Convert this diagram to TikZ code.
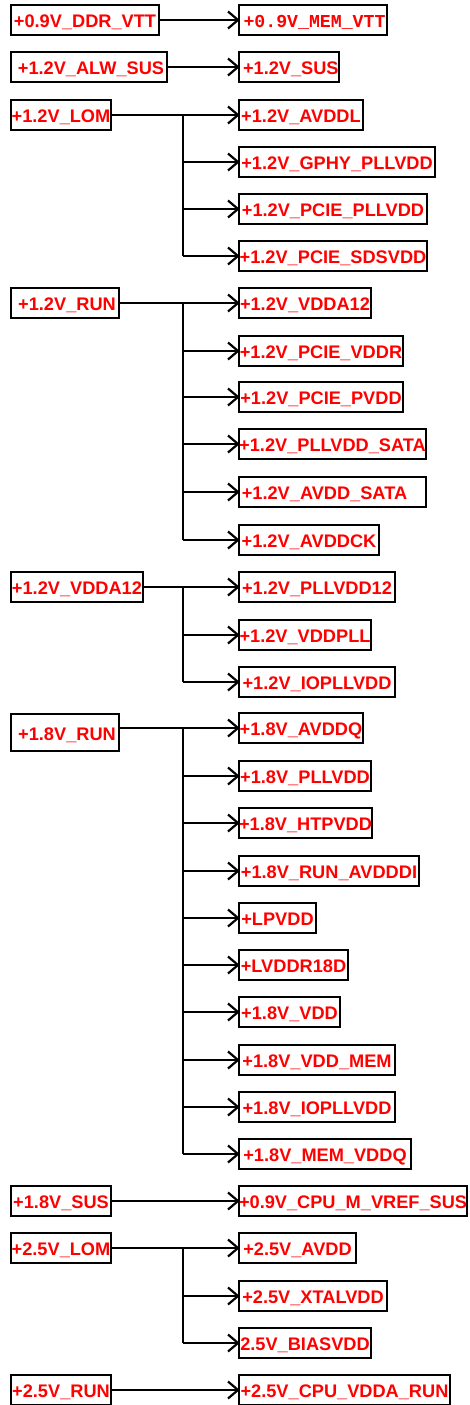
\documentclass[tikz,border=0pt]{standalone}
\usepackage{fontspec}
\setmainfont{Liberation Sans}
\setmonofont{Liberation Mono}
\tikzset{
  box/.style={draw=black, line width=2pt, inner sep=0pt, minimum height=30pt,
    text height=15pt, text depth=0pt, text=red, anchor=west,
    font=\fontsize{18.2}{20}\selectfont\bfseries},
  monobox/.style={box, font=\fontsize{18.2}{20}\selectfont\ttfamily\bfseries},
  conn/.style={line width=1.5pt, black},
  head/.style={line width=2.2pt, black, line join=miter},
}
\newcommand\feed[2]{%
  \draw[conn] (#1) -- (#2);
  \draw[head] ([shift={(-10pt,-8.5pt)}]#2) -- (#2) -- ([shift={(-10pt,8.5pt)}]#2);}
\begin{document}
\begin{tikzpicture}[x=1pt,y=-1pt]
\fill[white] (0,0) rectangle (470,1405);
\useasboundingbox (0,0) rectangle (470,1405);
\coordinate (tx) at (183,0);

% ---- +0.9V_DDR_VTT
\node[box, minimum width=148pt] (p1) at (10,20) {+0.9V\_DDR\_VTT};
\node[monobox, minimum width=148pt] (c11) at (238,20) {\hspace*{3pt}+0.9V\_MEM\_VTT};
\feed{p1.east |- c11.west}{c11.west}

% ---- +1.2V_ALW_SUS
\node[box, minimum width=156pt] (p2) at (10,67) {\hspace*{4pt}+1.2V\_ALW\_SUS};
\node[box, minimum width=93pt] (c21) at (238,67) {\hspace*{4pt}+1.2V\_SUS};
\feed{p2.east |- c21.west}{c21.west}

% ---- +1.2V_LOM
\node[box, minimum width=100pt] (p3) at (10,115) {+1.2V\_LOM};
\node[box, minimum width=124pt] (c31) at (238,115) {+1.2V\_AVDDL};
\node[box, minimum width=196pt] (c32) at (238,162) {+1.2V\_GPHY\_PLLVDD};
\node[box, minimum width=188pt] (c33) at (238,209) {+1.2V\_PCIE\_PLLVDD};
\node[box, minimum width=188pt] (c34) at (238,256) {+1.2V\_PCIE\_SDSVDD};
\feed{p3.east |- c31.west}{c31.west}
\draw[conn] (tx |- c31.west) -- (tx |- c34.west);
\foreach \c in {c32,c33,c34} {\feed{tx |- \c.west}{\c.west}}

% ---- +1.2V_RUN
\node[box, minimum width=108pt] (p4) at (10,303) {\hspace*{4pt}+1.2V\_RUN};
\node[box, minimum width=132pt] (c41) at (238,303) {+1.2V\_VDDA12};
\node[box, minimum width=164pt] (c42) at (238,351) {+1.2V\_PCIE\_VDDR};
\node[box, minimum width=164pt] (c43) at (238,397) {+1.2V\_PCIE\_PVDD};
\node[box, minimum width=187pt] (c44) at (238,444) {+1.2V\_PLLVDD\_SATA};
\node[box, minimum width=187pt] (c45) at (238,492) {+1.2V\_AVDD\_SATA\hspace*{16pt}};
\node[box, minimum width=140pt] (c46) at (238,540) {+1.2V\_AVDDCK};
\feed{p4.east |- c41.west}{c41.west}
\draw[conn] (tx |- c41.west) -- (tx |- c46.west);
\foreach \c in {c42,c43,c44,c45,c46} {\feed{tx |- \c.west}{\c.west}}

% ---- +1.2V_VDDA12
\node[box, minimum width=132pt] (p5) at (10,587) {+1.2V\_VDDA12};
\node[box, minimum width=156pt] (c51) at (238,587) {+1.2V\_PLLVDD12};
\node[box, minimum width=132pt] (c52) at (238,635) {+1.2V\_VDDPLL};
\node[box, minimum width=156pt] (c53) at (238,682) {+1.2V\_IOPLLVDD};
\feed{p5.east |- c51.west}{c51.west}
\draw[conn] (tx |- c51.west) -- (tx |- c53.west);
\foreach \c in {c52,c53} {\feed{tx |- \c.west}{\c.west}}

% ---- +1.8V_RUN
\node[box, minimum width=108pt, minimum height=37pt] (p6) at (10,732.5) {\hspace*{4pt}+1.8V\_RUN};
\node[box, minimum width=124pt] (c61) at (238,728) {+1.8V\_AVDDQ};
\node[box, minimum width=132pt] (c62) at (238,776) {+1.8V\_PLLVDD};
\node[box, minimum width=132pt] (c63) at (238,823) {+1.8V\_HTPVDD};
\node[box, minimum width=180pt] (c64) at (238,871) {+1.8V\_RUN\_AVDDDI};
\node[box, minimum width=77pt] (c65) at (238,918) {+LPVDD};
\node[box, minimum width=109pt] (c66) at (238,965) {+LVDDR18D};
\node[box, minimum width=101pt] (c67) at (238,1012) {+1.8V\_VDD};
\node[box, minimum width=156pt] (c68) at (238,1060) {+1.8V\_VDD\_MEM};
\node[box, minimum width=156pt] (c69) at (238,1107) {+1.8V\_IOPLLVDD};
\node[box, minimum width=172pt] (c6a) at (238,1154) {+1.8V\_MEM\_VDDQ};
\feed{p6.east |- c61.west}{c61.west}
\draw[conn] (tx |- c61.west) -- (tx |- c6a.west);
\foreach \c in {c62,c63,c64,c65,c66,c67,c68,c69,c6a} {\feed{tx |- \c.west}{\c.west}}

% ---- +1.8V_SUS
\node[box, minimum width=100pt] (p7) at (10,1201) {+1.8V\_SUS};
\node[box, minimum width=228pt] (c71) at (238,1201) {+0.9V\_CPU\_M\_VREF\_SUS};
\feed{p7.east |- c71.west}{c71.west}

% ---- +2.5V_LOM
\node[box, minimum width=100pt] (p8) at (10,1248) {+2.5V\_LOM};
\node[box, minimum width=117pt] (c81) at (238,1248) {+2.5V\_AVDD};
\node[box, minimum width=148pt] (c82) at (238,1296) {+2.5V\_XTALVDD};
\node[box, minimum width=132pt] (c83) at (238,1343) {2.5V\_BIASVDD};
\feed{p8.east |- c81.west}{c81.west}
\draw[conn] (tx |- c81.west) -- (tx |- c83.west);
\foreach \c in {c82,c83} {\feed{tx |- \c.west}{\c.west}}

% ---- +2.5V_RUN
\node[box, minimum width=100pt] (p9) at (10,1390) {+2.5V\_RUN};
\node[box, minimum width=211pt] (c91) at (238,1390) {+2.5V\_CPU\_VDDA\_RUN};
\feed{p9.east |- c91.west}{c91.west}
\end{tikzpicture}
\end{document}
